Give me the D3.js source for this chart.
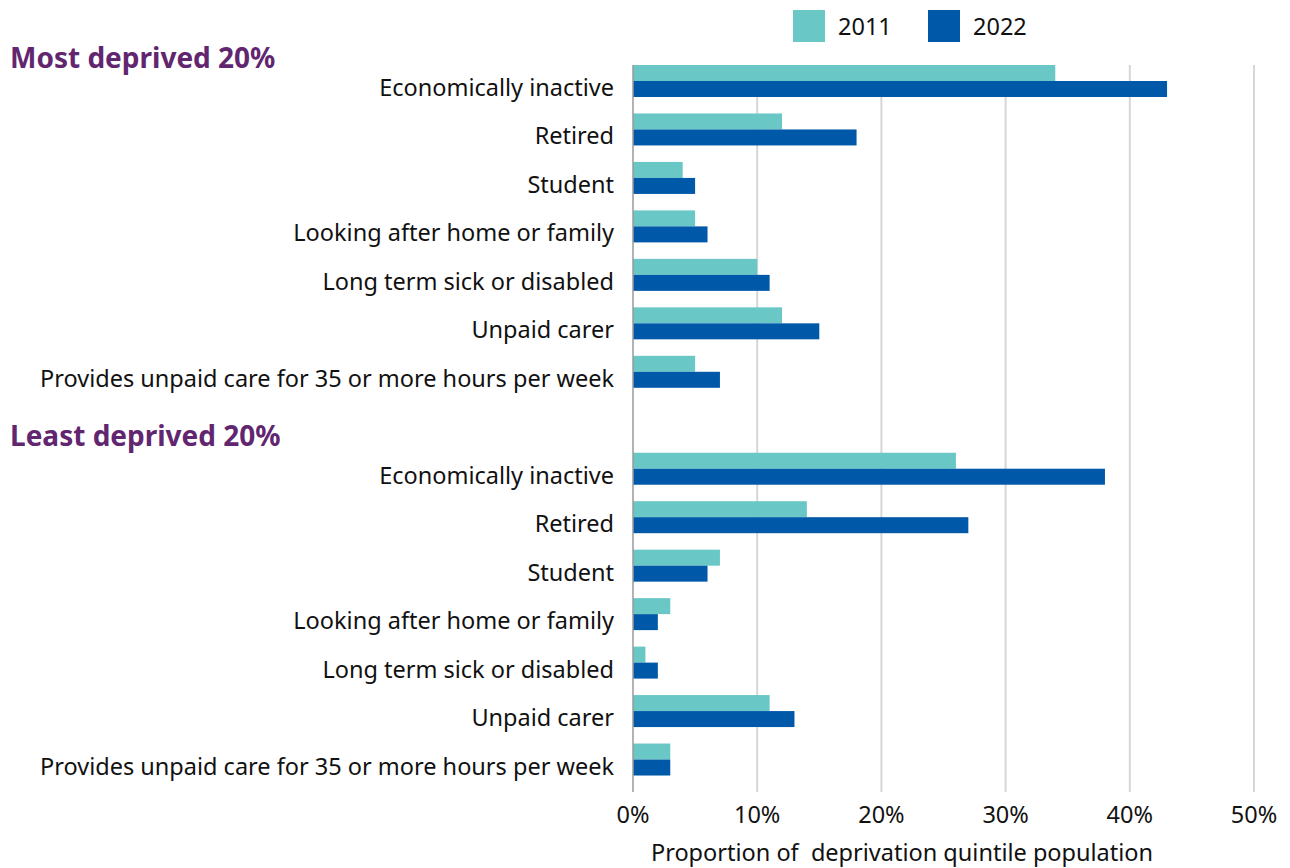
<!DOCTYPE html>
<html>
<head>
<meta charset="utf-8">
<script src="https://cdn.jsdelivr.net/npm/d3@7"></script>
<style>
  body { margin: 0; background: #ffffff; }
  svg text { font-family: "Noto Sans", "Open Sans", sans-serif; fill: #111111; }
</style>
</head>
<body>
<svg id="chart" width="1290" height="868"></svg>
<script>
// Economic activity by deprivation quintile, 2011 vs 2022 (% of quintile population)
const categories = [
  "Economically inactive",
  "Retired",
  "Student",
  "Looking after home or family",
  "Long term sick or disabled",
  "Unpaid carer",
  "Provides unpaid care for 35 or more hours per week"
];
const groups = ["Most deprived 20%", "Least deprived 20%"];
const years = ["2011", "2022"];
const mostDeprived2011 = [34, 12, 4, 5, 10, 12, 5];
const mostDeprived2022 = [43, 18, 5, 6, 11, 15, 7];
const leastDeprived2011 = [26, 14, 7, 3, 1, 11, 3];
const leastDeprived2022 = [38, 27, 6, 2, 2, 13, 3];
const xTicks = [0, 10, 20, 30, 40, 50];
const xTitle = "Proportion of  deprivation quintile population";

const colors = { "2011": "#69c8c6", "2022": "#0058a8" };
const headerColor = "#61266f";
const labelSize = "23.5px";

// Rows: group 1 categories, a spacer row that carries the group 2 heading, group 2 categories
const seriesByGroup = [
  [mostDeprived2011, mostDeprived2022],
  [leastDeprived2011, leastDeprived2022]
];
const rows = [];
groups.forEach((g, gi) => {
  if (gi > 0) rows.push({ key: "gap" + gi, spacer: true });
  categories.forEach((c, ci) => {
    rows.push({
      key: g + "|" + c,
      label: c,
      values: years.map((yr, yi) => ({ year: yr, value: seriesByGroup[gi][yi][ci] }))
    });
  });
});

const svg = d3.select("#chart");

const x = d3.scaleLinear().domain([0, 50]).range([633, 1254]);
const y = d3.scaleBand().domain(rows.map(r => r.key)).range([65, 792]);
const barH = y.step() * 0.33;

// Vertical gridlines
svg.append("g")
  .selectAll("line")
  .data(xTicks.filter(t => t > 0))
  .join("line")
  .attr("x1", d => x(d)).attr("x2", d => x(d))
  .attr("y1", y.range()[0]).attr("y2", y.range()[1])
  .attr("stroke", "#d6d6d6")
  .attr("stroke-width", 2);

// Bars
const rowG = svg.append("g")
  .selectAll("g")
  .data(rows.filter(r => !r.spacer))
  .join("g")
  .attr("transform", d => `translate(0,${y(d.key)})`);

rowG.selectAll("rect")
  .data(d => d.values)
  .join("rect")
  .attr("x", x(0))
  .attr("y", (d, i) => i * barH)
  .attr("width", d => x(d.value) - x(0))
  .attr("height", barH)
  .attr("fill", d => colors[d.year]);

// Category labels
rowG.append("text")
  .attr("x", 614)
  .attr("y", 31)
  .attr("text-anchor", "end")
  .style("font-size", labelSize)
  .text(d => d.label);

// Zero baseline
svg.append("line")
  .attr("x1", x(0)).attr("x2", x(0))
  .attr("y1", y.range()[0]).attr("y2", y.range()[1])
  .attr("stroke", "#9a9a9a")
  .attr("stroke-width", 1.5);

// Group headings
const headerY = [y(rows[0].key) + 3, y("gap1") + 42];
svg.append("g")
  .selectAll("text")
  .data(groups)
  .join("text")
  .attr("x", 10)
  .attr("y", (d, i) => headerY[i])
  .style("font-size", "28px")
  .style("font-weight", "bold")
  .style("fill", headerColor)
  .text(d => d);

// X axis tick labels
svg.append("g")
  .selectAll("text")
  .data(xTicks)
  .join("text")
  .attr("x", d => x(d))
  .attr("y", 823)
  .attr("text-anchor", "middle")
  .style("font-size", labelSize)
  .text(d => d + "%");

// X axis title
svg.append("text")
  .attr("x", 902)
  .attr("y", 861)
  .attr("text-anchor", "middle")
  .style("font-size", labelSize)
  .style("white-space", "pre")
  .text(xTitle);

// Legend
const legend = svg.append("g")
  .selectAll("g")
  .data(years)
  .join("g")
  .attr("transform", (d, i) => `translate(${793 + i * 135},10)`);
legend.append("rect")
  .attr("width", 32).attr("height", 32)
  .attr("fill", d => colors[d]);
legend.append("text")
  .attr("x", 45)
  .attr("y", 25)
  .style("font-size", labelSize)
  .text(d => d);
</script>
</body>
</html>
